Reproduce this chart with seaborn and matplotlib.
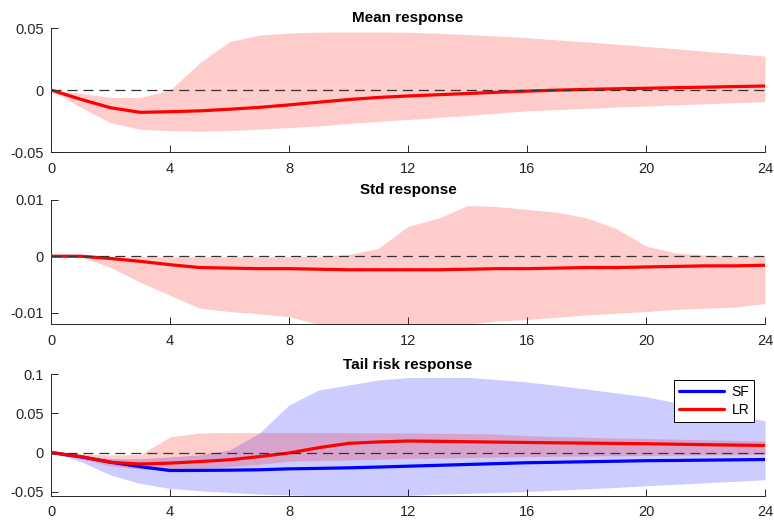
import numpy as np
import pandas as pd
import matplotlib
matplotlib.use("Agg")
import matplotlib.pyplot as plt
import seaborn as sns

# ---------------- data ----------------
horizon = list(range(25))

mean_line = [0, -0.0075, -0.0143, -0.018, -0.0175, -0.0168, -0.0155, -0.014, -0.012, -0.0098,
             -0.0077, -0.006, -0.0048, -0.0038, -0.0028, -0.0018, -0.0009, -0.0001, 0.0005,
             0.001, 0.0014, 0.0019, 0.0023, 0.0028, 0.0032]
mean_upper = [0, -0.0027, -0.006, -0.006, 0.0, 0.022, 0.039, 0.0443, 0.046, 0.0467, 0.0468,
              0.0468, 0.0466, 0.0458, 0.0448, 0.0436, 0.0422, 0.0405, 0.0388, 0.037, 0.0352,
              0.0333, 0.0313, 0.0294, 0.0274]
mean_lower = [0, -0.014, -0.0264, -0.0317, -0.0328, -0.0333, -0.0327, -0.0315, -0.0303, -0.029,
              -0.027, -0.0253, -0.0238, -0.0222, -0.0205, -0.0186, -0.0168, -0.0158, -0.0148,
              -0.0138, -0.0129, -0.012, -0.0111, -0.0102, -0.0094]

std_line = [0, 0, -0.0004, -0.0009, -0.0015, -0.002, -0.0021, -0.0022, -0.0022, -0.0023,
            -0.0024, -0.0024, -0.0024, -0.0024, -0.0023, -0.0022, -0.0022, -0.0021, -0.002,
            -0.002, -0.0019, -0.0018, -0.0017, -0.0017, -0.0016]
std_upper = [0, 0.0001, -0.0001, -0.0001, -0.0001, -0.0001, -0.0001, -0.0001, -0.0001, 0.0,
             0.0003, 0.0014, 0.0053, 0.0067, 0.009, 0.0088, 0.0083, 0.0078, 0.0068, 0.0049,
             0.0018, 0.0006, 0.0002, 0.0, 0.0]
std_lower = [0, -0.0001, -0.002, -0.0046, -0.0069, -0.0092, -0.0098, -0.0102, -0.0107, -0.0121,
             -0.0125, -0.0127, -0.0126, -0.0123, -0.012, -0.0115, -0.0112, -0.0108, -0.0104,
             -0.0101, -0.0098, -0.0094, -0.0092, -0.009, -0.0084]

sf_line = [0, -0.0055, -0.0123, -0.018, -0.0229, -0.0228, -0.0225, -0.022, -0.0208, -0.0202,
           -0.0195, -0.0185, -0.0174, -0.0163, -0.0152, -0.0141, -0.013, -0.0124, -0.0117,
           -0.0111, -0.0104, -0.0101, -0.0097, -0.0093, -0.0089]
sf_upper = [0, -0.004, -0.0075, -0.008, -0.0055, -0.003, 0.0034, 0.0246, 0.0606, 0.0797, 0.086,
            0.0925, 0.0955, 0.0958, 0.0958, 0.093, 0.09, 0.0855, 0.081, 0.076, 0.0712, 0.0635,
            0.0557, 0.048, 0.0403]
sf_lower = [0, -0.0114, -0.0286, -0.0394, -0.0458, -0.0487, -0.0508, -0.053, -0.054, -0.0552,
            -0.0555, -0.0555, -0.0548, -0.053, -0.052, -0.051, -0.0496, -0.048, -0.0463,
            -0.0445, -0.0424, -0.0405, -0.0385, -0.0366, -0.0347]

lr_line = [0, -0.005, -0.0125, -0.0146, -0.0135, -0.0115, -0.0092, -0.0052, -0.0006, 0.0062,
           0.0117, 0.0135, 0.0147, 0.0143, 0.0138, 0.0133, 0.0128, 0.0124, 0.012, 0.0116,
           0.0112, 0.0106, 0.01, 0.0095, 0.009]
lr_upper = [0, -0.002, -0.003, -0.0025, 0.02, 0.025, 0.0254, 0.0254, 0.0254, 0.0254, 0.0253,
            0.0252, 0.025, 0.0246, 0.0242, 0.0236, 0.0215, 0.0205, 0.0195, 0.0185, 0.0178,
            0.017, 0.0162, 0.0155, 0.0148]
lr_lower = [0, -0.008, -0.017, -0.021, -0.022, -0.0205, -0.018, -0.015, -0.011, -0.0102,
            -0.0095, -0.0085, -0.0076, -0.007, -0.0064, -0.0058, -0.0052, -0.0048, -0.0044,
            -0.004, -0.0037, -0.0034, -0.0031, -0.0028, -0.0025]

titles = ["Mean response", "Std response", "Tail risk response"]
x_ticks = [0, 4, 8, 12, 16, 20, 24]
x_ticklabels = ["0", "4", "8", "12", "16", "20", "24"]
y_ticks = [[-0.05, 0, 0.05], [-0.01, 0, 0.01], [-0.05, 0, 0.05, 0.1]]
y_ticklabels = [["-0.05", "0", "0.05"], ["-0.01", "0", "0.01"], ["-0.05", "0", "0.05", "0.1"]]
y_lims = [(-0.05, 0.05), (-0.012, 0.01), (-0.055, 0.1)]
series_names = ["SF", "LR"]

# ---------------- style ----------------
sns.set_style("white")
plt.rcParams["font.family"] = ["Liberation Sans", "DejaVu Sans"]
plt.rcParams["lines.scale_dashes"] = False

fig = plt.figure(figsize=(7.74, 5.22), dpi=100)
positions = [[0.0659, 0.7088, 0.9225, 0.2375],
             [0.0659, 0.3793, 0.9225, 0.2380],
             [0.0659, 0.0504, 0.9225, 0.2330]]
axes = [fig.add_axes(p) for p in positions]

band_red = (1.0, 0.0, 0.0, 0.2)
band_blue = (0.0, 0.0, 1.0, 0.2)
axc = (0.15, 0.15, 0.15)

# panel 1
ax = axes[0]
ax.fill_between(horizon, mean_lower, mean_upper, color=band_red, linewidth=0, zorder=1)
sns.lineplot(x=horizon, y=mean_line, color="red", linewidth=2.3, ax=ax, zorder=3)

# panel 2
ax = axes[1]
ax.fill_between(horizon, std_lower, std_upper, color=band_red, linewidth=0, zorder=1)
sns.lineplot(x=horizon, y=std_line, color="red", linewidth=2.3, ax=ax, zorder=3)

# panel 3
ax = axes[2]
ax.fill_between(horizon, sf_lower, sf_upper, color=band_blue, linewidth=0, zorder=1)
ax.fill_between(horizon, lr_lower, lr_upper, color=band_red, linewidth=0, zorder=1.5)
sns.lineplot(x=horizon, y=sf_line, color="blue", linewidth=2.3, ax=ax, zorder=3,
             label=series_names[0])
sns.lineplot(x=horizon, y=lr_line, color="red", linewidth=2.3, ax=ax, zorder=3.1,
             label=series_names[1])
leg = ax.legend(loc="upper right", bbox_to_anchor=(0.9846, 0.951), frameon=True,
                fancybox=False, framealpha=1, edgecolor="black", fontsize=10,
                handlelength=3.3, borderpad=0.35, labelspacing=0.3, handletextpad=0.5,
                borderaxespad=0)
leg.get_frame().set_linewidth(0.7)
leg.set_zorder(10)
for t in leg.get_texts():
    t.set_color("black")

for i, ax in enumerate(axes):
    ax.axhline(0, color=(0.2, 0.2, 0.2), linewidth=0.9, linestyle=(0, (7.2, 4.3)), zorder=4)
    ax.set_xlim(0, 24)
    ax.set_ylim(*y_lims[i])
    ax.set_xticks(x_ticks)
    ax.set_xticklabels(x_ticklabels)
    ax.set_yticks(y_ticks[i])
    ax.set_yticklabels(y_ticklabels[i])
    ax.set_title(titles[i], fontsize=11, fontweight="bold", pad=4, color="black")
    for s in ["top", "right"]:
        ax.spines[s].set_visible(False)
    for s in ["left", "bottom"]:
        ax.spines[s].set_color(axc)
        ax.spines[s].set_linewidth(0.7)
    ax.tick_params(axis="both", which="major", direction="in", length=5, width=0.7,
                   color=axc, labelcolor=axc, labelsize=10.5,
                   bottom=True, left=True, top=False, right=False)
    ax.tick_params(axis="y", pad=5)
    ax.tick_params(axis="x", pad=7)
    ax.set_xlabel("")
    ax.set_ylabel("")
    ax.patch.set_alpha(0)

fig.savefig("out.png", dpi=100)
